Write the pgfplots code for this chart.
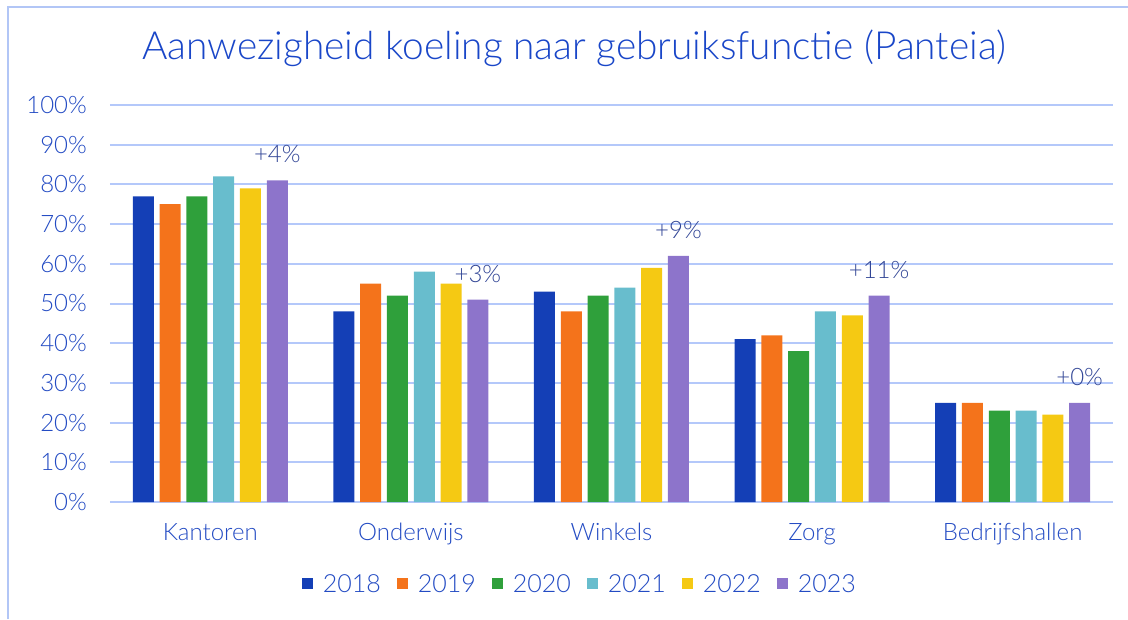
\documentclass[border=0pt]{standalone}
\usepackage{pgfplots}
\pgfplotsset{compat=1.18}
\usepackage{fontspec}
\setmainfont{Lato}[UprightFont={* Light}]

\definecolor{c18}{RGB}{20,63,182}
\definecolor{c19}{RGB}{244,115,27}
\definecolor{c20}{RGB}{47,160,59}
\definecolor{c21}{RGB}{104,189,205}
\definecolor{c22}{RGB}{245,201,19}
\definecolor{c23}{RGB}{141,116,203}
\definecolor{gridcol}{RGB}{180,200,250}
\definecolor{framecol}{RGB}{178,198,246}
\definecolor{titleblue}{RGB}{25,70,200}
\definecolor{tickblue}{RGB}{35,75,195}
\definecolor{annot}{RGB}{50,70,150}

\begin{document}
\begin{tikzpicture}
\path[use as bounding box] (0pt,0pt) rectangle (1128pt,619pt);
% frame of the screenshot
\draw[framecol, line width=1.5pt] (8pt,0pt) -- (8pt,612pt) -- (1128pt,612pt);
% title
\node[text=titleblue, font=\fontsize{38.8}{44}\selectfont] at (574pt,571pt)
  {Aanwezigheid koeling naar gebruiksfunctie (Panteia)};

\begin{axis}[
  at={(110pt,117pt)}, anchor=south west,
  width=1003pt, height=397pt, scale only axis,
  xmin=-0.5, xmax=4.5, ymin=0, ymax=100,
  ybar=5.8pt, bar width=21pt,
  axis line style={draw=none},
  major tick length=0pt,
  ymajorgrids, grid style={gridcol, line width=2pt},
  xtick={0,1,2,3,4},
  xticklabels={Kantoren, Onderwijs, Winkels, Zorg, Bedrijfshallen},
  ytick={0,10,...,100},
  yticklabels={0\%,10\%,20\%,30\%,40\%,50\%,60\%,70\%,80\%,90\%,100\%},
  xticklabel style={anchor=base, inner sep=0pt, yshift=-38pt, text=tickblue,
    font=\fontsize{24}{28}\selectfont},
  yticklabel style={anchor=east, inner sep=0pt, xshift=-23pt, text=tickblue,
    font=\fontsize{24}{28}\selectfont},
  legend style={draw=none, fill=none, at={(0.4676,-0.2065)}, anchor=center,
    font=\fontsize{25}{29}\selectfont, text=tickblue,
    nodes={inner sep=0pt},
    /tikz/every odd column/.append style={column sep=10pt},
    /tikz/every even column/.append style={column sep=16pt}},
  legend columns=6,
  legend image code/.code={\fill[#1] (0pt,-5.5pt) rectangle (11pt,5.5pt);},
  clip=false,
]
\addplot[fill=c18, draw=none] coordinates {(0,77) (1,48) (2,53) (3,41) (4,25)};
\addplot[fill=c19, draw=none] coordinates {(0,75) (1,55) (2,48) (3,42) (4,25)};
\addplot[fill=c20, draw=none] coordinates {(0,77) (1,52) (2,52) (3,38) (4,23)};
\addplot[fill=c21, draw=none] coordinates {(0,82) (1,58) (2,54) (3,48) (4,23)};
\addplot[fill=c22, draw=none] coordinates {(0,79) (1,55) (2,59) (3,47) (4,22)};
\addplot[fill=c23, draw=none,
  nodes near coords, point meta=explicit symbolic,
  every node near coord/.style={anchor=center, xshift=67pt, yshift=26pt, text=annot,
    font=\fontsize{24}{28}\selectfont}]
  coordinates {(0,81) [+4\%] (1,51) [+3\%] (2,62) [+9\%] (3,52) [+11\%] (4,25) [+0\%]};
\legend{2018,2019,2020,2021,2022,2023}
\end{axis}
\end{tikzpicture}
\end{document}
